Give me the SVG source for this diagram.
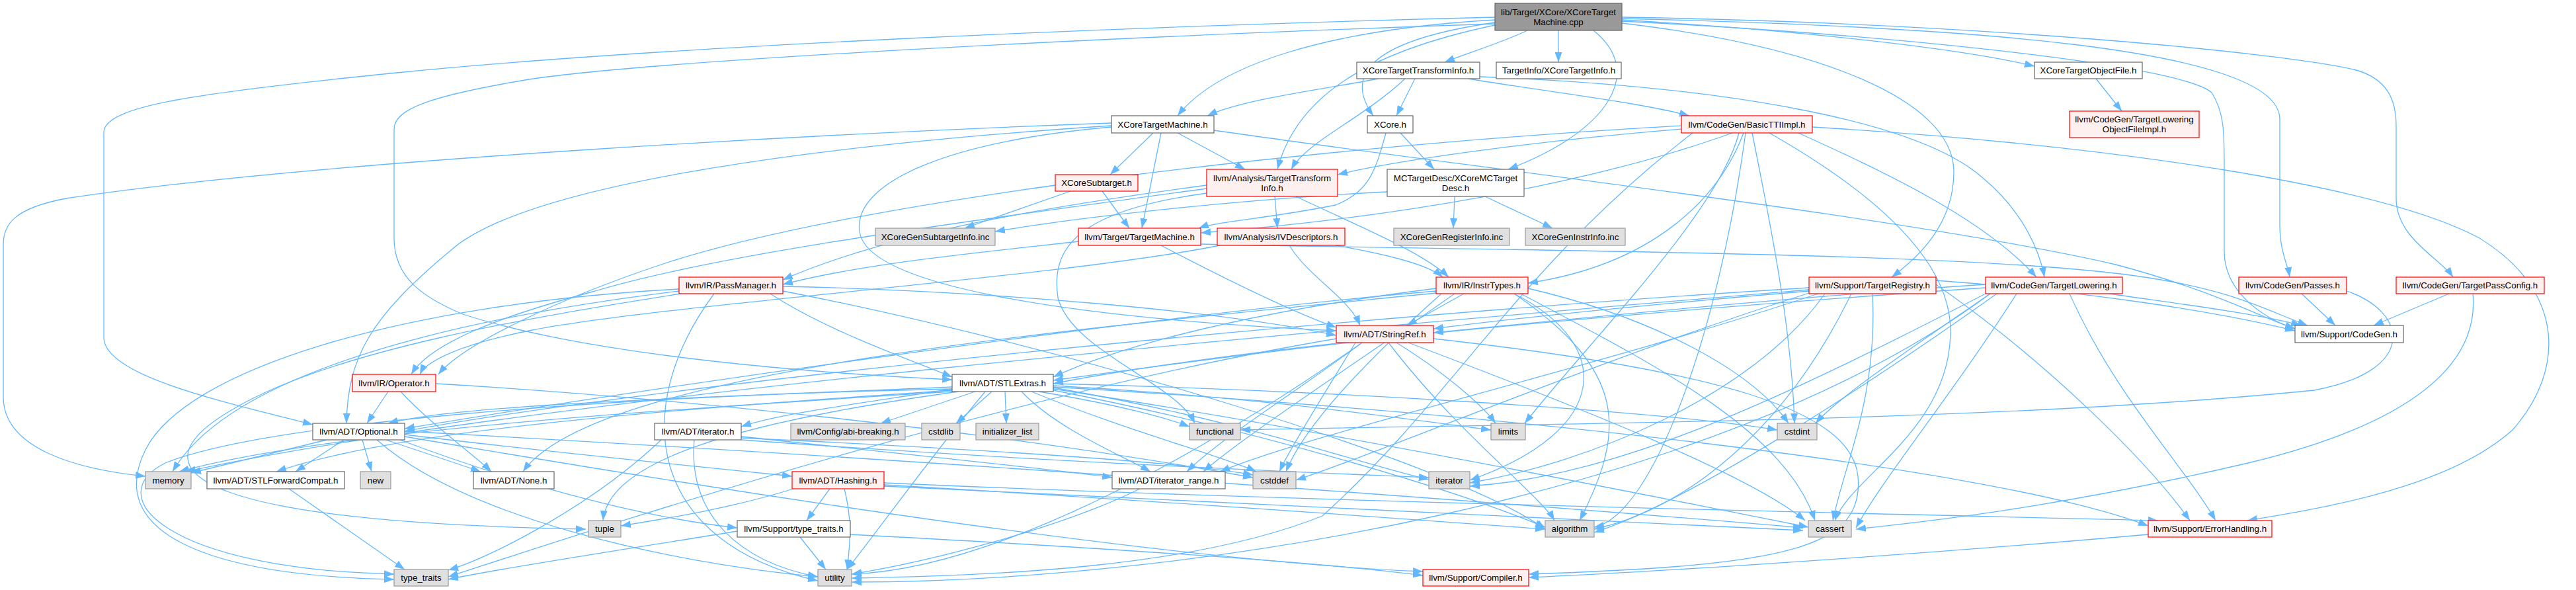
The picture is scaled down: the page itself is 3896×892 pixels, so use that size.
<svg xmlns="http://www.w3.org/2000/svg" width="3896" height="892" viewBox="0 0 3896 892">
<style>
.e{fill:none;stroke:#63b8ff;stroke-width:1.3;marker-end:url(#ah)}
.n rect{stroke-width:1.2}
.w rect{fill:#ffffff;stroke:#666666}
.r rect{fill:#fff0f0;stroke:#ff0000}
.g rect{fill:#e0e0e0;stroke:#999999}
.root rect{fill:#999999;stroke:#666666}
text{font-family:"Liberation Sans",Arial,Helvetica,sans-serif;font-size:13.33px;fill:#000000;text-anchor:middle}
</style>
<defs>
<marker id="ah" markerUnits="userSpaceOnUse" markerWidth="15" markerHeight="11" viewBox="0 0 15 11" refX="15" refY="5.5" orient="auto">
<path d="M0,0 L15,5.5 L0,11 z" fill="#63b8ff"/>
</marker>
</defs>
<g id="edges">
<path class="e" d="M2310,46 C2270,65 2220,80 2185,94"/>
<path class="e" d="M2357,46 L2357,94"/>
<path class="e" d="M2261,34 C2080,60 2030,110 2077,175"/>
<path class="e" d="M2261,30 C2000,45 1840,100 1781,175"/>
<path class="e" d="M2261,38 C2060,80 1960,150 1932,256"/>
<path class="e" d="M2410,46 C2490,110 2430,200 2281,256"/>
<path class="e" d="M2453,30 C2700,45 2950,70 3077,100"/>
<path class="e" d="M2453,35 C2750,70 2955,150 2955,260 C2955,340 2900,390 2861,419"/>
<path class="e" d="M2453,28 C2950,40 3448,70 3448,180 L3448,340 C3448,380 3460,400 3463,419"/>
<path class="e" d="M2453,26 C3000,35 3450,80 3560,105 C3610,118 3624,150 3624,190 L3624,300 C3624,360 3690,390 3710,419"/>
<path class="e" d="M2453,32 C2900,55 3300,100 3345,140 C3364,170 3364,200 3364,250 L3364,380 C3364,440 3420,480 3471,497"/>
<path class="e" d="M2261,26 C1700,40 1000,70 600,110 C300,140 157,160 157,200 L157,510 C157,570 350,610 473,642"/>
<path class="e" d="M2261,36 C1700,55 1000,90 800,120 C650,145 596,165 596,195 L596,360 C596,420 640,450 700,475 C900,540 1250,565 1440,574"/>
<path class="e" d="M2140,119 L2112,175"/>
<path class="e" d="M2085,119 C2000,135 1880,150 1826,175"/>
<path class="e" d="M2125,119 C2060,180 1975,215 1953,256"/>
<path class="e" d="M2220,119 C2350,140 2480,155 2555,175"/>
<path class="e" d="M2238,116 C2600,130 2900,180 3000,270 C3060,320 3085,380 3092,419"/>
<path class="e" d="M2118,201 L2169,256"/>
<path class="e" d="M2096,201 C2080,260 2070,290 2020,310 C1920,330 1840,335 1813,345"/>
<path class="e" d="M1744,201 L1679,264"/>
<path class="e" d="M1756,201 L1727,345"/>
<path class="e" d="M1781,201 L1883,256"/>
<path class="e" d="M1681,186 C1300,200 500,240 100,300 C20,315 5,340 5,370 L5,600 C5,680 120,710 220,720"/>
<path class="e" d="M1681,190 C1300,215 800,270 680,380 C560,480 526,540 524,640"/>
<path class="e" d="M1681,192 C1420,215 1290,280 1300,350 C1310,430 1600,480 2021,500"/>
<path class="e" d="M1836,197 C2200,250 2900,330 3200,400 C3350,440 3420,480 3471,497"/>
<path class="e" d="M2200,297 L2198,345"/>
<path class="e" d="M2246,297 L2348,345"/>
<path class="e" d="M2098,290 C1900,300 1650,325 1505,350"/>
<path class="e" d="M3170,119 L3209,168"/>
<path class="e" d="M1619,289 L1459,345"/>
<path class="e" d="M1667,289 L1708,345"/>
<path class="e" d="M2543,195 C2300,215 2100,245 2023,264"/>
<path class="e" d="M2720,201 C2850,260 3000,330 3080,419"/>
<path class="e" d="M2637,201 C2600,300 2500,400 2311,428"/>
<path class="e" d="M2543,190 C2000,220 1300,300 1000,400 C850,450 700,520 663,566"/>
<path class="e" d="M2741,192 C3200,220 3600,280 3750,360 C3880,440 3880,560 3800,650 C3700,740 3500,770 3399,787"/>
<path class="e" d="M2620,201 C2400,280 2100,330 1816,352"/>
<path class="e" d="M2650,201 C2680,350 2710,500 2714,640"/>
<path class="e" d="M2630,201 C2600,320 2400,520 2306,640"/>
<path class="e" d="M2640,201 C2600,500 2500,780 2411,797"/>
<path class="e" d="M2676,201 C2850,300 2950,400 2950,500 C2950,650 2800,720 2775,787"/>
<path class="e" d="M2560,201 C2300,400 2200,600 2000,780 C1800,860 1500,870 1288,874"/>
<path class="e" d="M1928,297 L1932,345"/>
<path class="e" d="M1960,297 C2050,340 2150,380 2191,419"/>
<path class="e" d="M1825,285 C1500,330 1100,380 900,440 C750,480 650,520 622,566"/>
<path class="e" d="M1825,280 C1600,310 1350,350 1184,423"/>
<path class="e" d="M1825,292 C1620,320 1590,380 1600,450 C1620,530 1780,580 1807,640"/>
<path class="e" d="M1845,371 C1600,420 1000,460 800,500 C700,520 645,545 635,566"/>
<path class="e" d="M2020,371 C2100,385 2160,400 2182,419"/>
<path class="e" d="M1950,371 C1980,420 2040,450 2057,492"/>
<path class="e" d="M1631,365 C1450,385 1300,400 1184,430"/>
<path class="e" d="M1756,371 C1850,420 1950,470 2021,495"/>
<path class="e" d="M1816,369 C2300,380 3000,380 3250,420 C3380,440 3430,470 3490,492"/>
<path class="e" d="M1165,444 C1250,500 1380,545 1440,570"/>
<path class="e" d="M1184,433 C1500,440 1850,470 2021,507"/>
<path class="e" d="M1027,440 C700,480 350,560 261,713"/>
<path class="e" d="M1027,437 C600,460 280,560 220,680 C160,800 300,870 596,876"/>
<path class="e" d="M1030,444 C800,480 500,530 350,620 C180,720 330,790 886,800"/>
<path class="e" d="M1080,444 C950,620 980,820 1237,878"/>
<path class="e" d="M1184,440 C1600,520 2200,700 2337,800"/>
<path class="e" d="M2214,444 L2128,492"/>
<path class="e" d="M2172,440 C1700,480 900,600 612,648"/>
<path class="e" d="M2172,436 C1900,470 1700,520 1593,570"/>
<path class="e" d="M2172,443 C1600,500 900,560 791,713"/>
<path class="e" d="M2200,444 C2050,550 1880,660 1820,713"/>
<path class="e" d="M2290,444 C2460,560 2460,650 2389,787"/>
<path class="e" d="M2300,444 C2500,550 2700,650 2745,787"/>
<path class="e" d="M2180,444 C2050,560 1970,650 1945,713"/>
<path class="e" d="M2311,436 C2500,480 2650,560 2705,640"/>
<path class="e" d="M2290,444 C2440,520 2440,650 2223,726"/>
<path class="e" d="M2736,435 C2000,480 1000,580 612,652"/>
<path class="e" d="M2736,440 C2500,460 2300,480 2168,497"/>
<path class="e" d="M2750,444 C2400,560 2000,650 1845,713"/>
<path class="e" d="M2928,424 C3150,440 3350,470 3471,500"/>
<path class="e" d="M2928,430 C3100,550 3250,700 3312,787"/>
<path class="e" d="M2800,444 C2700,650 2550,770 2411,800"/>
<path class="e" d="M2832,444 C2840,600 2790,700 2772,787"/>
<path class="e" d="M2736,443 C2400,550 2100,680 1960,726"/>
<path class="e" d="M2760,444 C2650,600 2400,700 2223,730"/>
<path class="e" d="M2736,438 C2000,500 800,600 281,713"/>
<path class="e" d="M3003,430 C2700,450 2400,480 2168,503"/>
<path class="e" d="M3003,435 C2500,470 1900,520 1593,580"/>
<path class="e" d="M3190,444 C3300,460 3420,475 3480,492"/>
<path class="e" d="M3130,444 C3200,600 3300,700 3351,787"/>
<path class="e" d="M3020,444 C2800,600 2550,760 2411,805"/>
<path class="e" d="M3050,444 C2950,600 2850,720 2807,798"/>
<path class="e" d="M3010,444 C2900,520 2780,600 2746,640"/>
<path class="e" d="M3003,444 C2700,600 2450,720 2223,735"/>
<path class="e" d="M3010,444 C2600,750 1800,880 1288,880"/>
<path class="e" d="M3481,444 L3532,492"/>
<path class="e" d="M3549,440 C3640,470 3660,560 3500,590 C3000,640 2300,640 1876,650"/>
<path class="e" d="M3704,444 L3590,492"/>
<path class="e" d="M3740,444 C3750,550 3650,640 3400,700 C3100,770 2900,790 2807,800"/>
<path class="e" d="M2040,518 C1850,540 1700,560 1593,575"/>
<path class="e" d="M2060,518 C1950,600 1850,660 1795,713"/>
<path class="e" d="M2168,512 C2600,560 2800,620 2810,720 C2820,830 2700,855 2312,868"/>
<path class="e" d="M2100,518 C2200,650 2330,750 2351,787"/>
<path class="e" d="M2130,518 C2400,620 2650,720 2730,787"/>
<path class="e" d="M2050,518 C2000,600 1950,680 1935,713"/>
<path class="e" d="M2112,518 C2180,560 2240,610 2262,640"/>
<path class="e" d="M2021,512 C1500,600 900,800 678,872"/>
<path class="e" d="M2060,518 C1800,700 1500,860 1288,868"/>
<path class="e" d="M1440,585 C1100,600 700,610 587,640"/>
<path class="e" d="M1440,590 C1000,620 600,650 418,713"/>
<path class="e" d="M1440,588 C1300,610 1180,625 1121,645"/>
<path class="e" d="M1545,592 C1600,650 1700,690 1740,713"/>
<path class="e" d="M1475,592 L1332,640"/>
<path class="e" d="M1593,585 C2200,620 3000,700 3249,795"/>
<path class="e" d="M1593,590 C1900,650 2200,740 2337,797"/>
<path class="e" d="M1593,588 C2000,650 2500,750 2735,797"/>
<path class="e" d="M1560,592 C1700,650 1850,690 1900,713"/>
<path class="e" d="M1593,580 C2000,590 2500,620 2688,650"/>
<path class="e" d="M1500,592 L1446,640"/>
<path class="e" d="M1571,592 C1680,610 1760,630 1799,645"/>
<path class="e" d="M1520,592 L1522,640"/>
<path class="e" d="M1593,586 C1900,640 2050,700 2161,725"/>
<path class="e" d="M1593,583 C1900,600 2100,630 2255,650"/>
<path class="e" d="M1440,592 C1000,620 500,650 271,713"/>
<path class="e" d="M1450,592 C1100,640 920,700 912,787"/>
<path class="e" d="M1440,588 C900,600 400,640 250,700 C150,750 250,860 596,868"/>
<path class="e" d="M1490,592 C1400,700 1330,800 1281,861"/>
<path class="e" d="M494,665 L289,715"/>
<path class="e" d="M520,665 L447,713"/>
<path class="e" d="M548,665 L562,713"/>
<path class="e" d="M584,665 L727,713"/>
<path class="e" d="M612,657 C800,680 1000,700 1198,720"/>
<path class="e" d="M612,660 C1200,760 1800,850 2152,864"/>
<path class="e" d="M605,665 C750,720 950,780 1115,798"/>
<path class="e" d="M612,652 C1500,700 2400,770 2727,798"/>
<path class="e" d="M570,665 C700,780 1000,850 1237,872"/>
<path class="e" d="M1121,660 C1400,690 1600,710 1682,722"/>
<path class="e" d="M1121,662 C1500,680 1800,700 1895,718"/>
<path class="e" d="M1121,665 C1600,700 2000,715 2161,722"/>
<path class="e" d="M1000,665 C900,760 750,840 678,862"/>
<path class="e" d="M1050,665 C1040,780 1120,850 1237,872"/>
<path class="e" d="M437,739 L612,861"/>
<path class="e" d="M1255,739 L1220,787"/>
<path class="e" d="M1277,739 C1290,790 1285,830 1281,861"/>
<path class="e" d="M1337,730 C2000,760 3000,780 3264,787"/>
<path class="e" d="M1337,733 C1800,760 2200,790 2337,800"/>
<path class="e" d="M1337,735 C2000,770 2500,790 2727,802"/>
<path class="e" d="M1200,739 C1100,770 1000,785 939,795"/>
<path class="e" d="M1724,739 C1600,800 1400,850 1288,868"/>
<path class="e" d="M1115,803 C950,830 750,860 678,876"/>
<path class="e" d="M1210,812 L1249,861"/>
<path class="e" d="M1286,808 C1700,830 2000,850 2152,870"/>
<path class="e" d="M3249,808 C3000,830 2600,860 2312,873"/>
<path class="e" d="M587,592 L555,640"/>
<path class="e" d="M606,592 C650,640 720,690 743,713"/>
<path class="e" d="M659,580 C1000,600 1500,650 1895,722"/>
</g>
<g id="n-root" class="n root"><rect x="2261" y="5" width="192" height="41"/><text x="2357" y="22.7">lib/Target/XCore/XCoreTarget</text><text x="2357" y="37.7">Machine.cpp</text></g>
<g id="n-xctti" class="n w"><rect x="2052" y="94" width="186" height="25"/><text x="2145" y="111.2">XCoreTargetTransformInfo.h</text></g>
<g id="n-targetinfo" class="n w"><rect x="2263" y="94" width="189" height="25"/><text x="2357.5" y="111.2">TargetInfo/XCoreTargetInfo.h</text></g>
<g id="n-xctof" class="n w"><rect x="3077" y="94" width="163" height="25"/><text x="3158.5" y="111.2">XCoreTargetObjectFile.h</text></g>
<g id="n-xctm" class="n w"><rect x="1681" y="175" width="155" height="26"/><text x="1758.5" y="192.7">XCoreTargetMachine.h</text></g>
<g id="n-xcore" class="n w"><rect x="2068" y="175" width="69" height="26"/><text x="2102.5" y="192.7">XCore.h</text></g>
<g id="n-basictti" class="n r"><rect x="2543" y="175" width="198" height="26"/><text x="2642" y="192.7">llvm/CodeGen/BasicTTIImpl.h</text></g>
<g id="n-tlofimpl" class="n r"><rect x="3130" y="168" width="196" height="40"/><text x="3228" y="185.2">llvm/CodeGen/TargetLowering</text><text x="3228" y="200.2">ObjectFileImpl.h</text></g>
<g id="n-subtarget" class="n r"><rect x="1596" y="264" width="125" height="25"/><text x="1658.5" y="281.2">XCoreSubtarget.h</text></g>
<g id="n-tti" class="n r"><rect x="1825" y="256" width="198" height="41"/><text x="1924" y="273.7">llvm/Analysis/TargetTransform</text><text x="1924" y="288.7">Info.h</text></g>
<g id="n-mctd" class="n w"><rect x="2098" y="256" width="207" height="41"/><text x="2201.5" y="273.7">MCTargetDesc/XCoreMCTarget</text><text x="2201.5" y="288.7">Desc.h</text></g>
<g id="n-subtargetinc" class="n g"><rect x="1324" y="345" width="181" height="26"/><text x="1414.5" y="362.7">XCoreGenSubtargetInfo.inc</text></g>
<g id="n-targetmachine" class="n r"><rect x="1631" y="345" width="185" height="26"/><text x="1723.5" y="362.7">llvm/Target/TargetMachine.h</text></g>
<g id="n-ivdesc" class="n r"><rect x="1841" y="345" width="193" height="26"/><text x="1937.5" y="362.7">llvm/Analysis/IVDescriptors.h</text></g>
<g id="n-reginc" class="n g"><rect x="2108" y="345" width="175" height="26"/><text x="2195.5" y="362.7">XCoreGenRegisterInfo.inc</text></g>
<g id="n-instrinc" class="n g"><rect x="2307" y="345" width="151" height="26"/><text x="2382.5" y="362.7">XCoreGenInstrInfo.inc</text></g>
<g id="n-passmanager" class="n r"><rect x="1027" y="419" width="157" height="25"/><text x="1105.5" y="436.2">llvm/IR/PassManager.h</text></g>
<g id="n-instrtypes" class="n r"><rect x="2172" y="419" width="139" height="25"/><text x="2241.5" y="436.2">llvm/IR/InstrTypes.h</text></g>
<g id="n-targetregistry" class="n r"><rect x="2736" y="419" width="192" height="25"/><text x="2832" y="436.2">llvm/Support/TargetRegistry.h</text></g>
<g id="n-targetlowering" class="n r"><rect x="3003" y="419" width="207" height="25"/><text x="3106.5" y="436.2">llvm/CodeGen/TargetLowering.h</text></g>
<g id="n-passes" class="n r"><rect x="3386" y="419" width="163" height="25"/><text x="3467.5" y="436.2">llvm/CodeGen/Passes.h</text></g>
<g id="n-tpc" class="n r"><rect x="3624" y="419" width="224" height="25"/><text x="3736" y="436.2">llvm/CodeGen/TargetPassConfig.h</text></g>
<g id="n-stringref" class="n r"><rect x="2021" y="492" width="147" height="26"/><text x="2094.5" y="509.7">llvm/ADT/StringRef.h</text></g>
<g id="n-codegen" class="n w"><rect x="3471" y="492" width="164" height="26"/><text x="3553" y="509.7">llvm/Support/CodeGen.h</text></g>
<g id="n-operator" class="n r"><rect x="533" y="566" width="126" height="26"/><text x="596" y="583.7">llvm/IR/Operator.h</text></g>
<g id="n-stlextras" class="n w"><rect x="1440" y="566" width="153" height="26"/><text x="1516.5" y="583.7">llvm/ADT/STLExtras.h</text></g>
<g id="n-optional" class="n w"><rect x="473" y="640" width="139" height="25"/><text x="542.5" y="657.2">llvm/ADT/Optional.h</text></g>
<g id="n-iteratorh" class="n w"><rect x="990" y="640" width="131" height="25"/><text x="1055.5" y="657.2">llvm/ADT/iterator.h</text></g>
<g id="n-abi" class="n g"><rect x="1196" y="640" width="173" height="25"/><text x="1282.5" y="657.2">llvm/Config/abi-breaking.h</text></g>
<g id="n-cstdlib" class="n g"><rect x="1394" y="640" width="58" height="25"/><text x="1423" y="657.2">cstdlib</text></g>
<g id="n-initlist" class="n g"><rect x="1476" y="640" width="95" height="25"/><text x="1523.5" y="657.2">initializer_list</text></g>
<g id="n-functional" class="n g"><rect x="1799" y="640" width="77" height="25"/><text x="1837.5" y="657.2">functional</text></g>
<g id="n-limits" class="n g"><rect x="2255" y="640" width="52" height="25"/><text x="2281" y="657.2">limits</text></g>
<g id="n-cstdint" class="n g"><rect x="2688" y="640" width="60" height="25"/><text x="2718" y="657.2">cstdint</text></g>
<g id="n-memory" class="n g"><rect x="220" y="713" width="69" height="26"/><text x="254.5" y="730.7">memory</text></g>
<g id="n-stlfwd" class="n w"><rect x="313" y="713" width="208" height="26"/><text x="417" y="730.7">llvm/ADT/STLForwardCompat.h</text></g>
<g id="n-new" class="n g"><rect x="545" y="713" width="46" height="26"/><text x="568" y="730.7">new</text></g>
<g id="n-none" class="n w"><rect x="716" y="713" width="122" height="26"/><text x="777" y="730.7">llvm/ADT/None.h</text></g>
<g id="n-hashing" class="n r"><rect x="1198" y="713" width="139" height="26"/><text x="1267.5" y="730.7">llvm/ADT/Hashing.h</text></g>
<g id="n-iterrange" class="n w"><rect x="1682" y="713" width="171" height="26"/><text x="1767.5" y="730.7">llvm/ADT/iterator_range.h</text></g>
<g id="n-cstddef" class="n g"><rect x="1895" y="713" width="65" height="26"/><text x="1927.5" y="730.7">cstddef</text></g>
<g id="n-iterator" class="n g"><rect x="2161" y="713" width="62" height="26"/><text x="2192" y="730.7">iterator</text></g>
<g id="n-tuple" class="n g"><rect x="890" y="787" width="49" height="25"/><text x="914.5" y="804.2">tuple</text></g>
<g id="n-supptt" class="n w"><rect x="1115" y="787" width="171" height="25"/><text x="1200.5" y="804.2">llvm/Support/type_traits.h</text></g>
<g id="n-algorithm" class="n g"><rect x="2337" y="787" width="74" height="25"/><text x="2374" y="804.2">algorithm</text></g>
<g id="n-cassert" class="n g"><rect x="2735" y="787" width="65" height="25"/><text x="2767.5" y="804.2">cassert</text></g>
<g id="n-errorhandling" class="n r"><rect x="3249" y="787" width="187" height="25"/><text x="3342.5" y="804.2">llvm/Support/ErrorHandling.h</text></g>
<g id="n-typetraits" class="n g"><rect x="596" y="861" width="82" height="25"/><text x="637" y="878.2">type_traits</text></g>
<g id="n-utility" class="n g"><rect x="1237" y="861" width="51" height="25"/><text x="1262.5" y="878.2">utility</text></g>
<g id="n-compiler" class="n r"><rect x="2152" y="861" width="160" height="25"/><text x="2232" y="878.2">llvm/Support/Compiler.h</text></g>
</svg>
